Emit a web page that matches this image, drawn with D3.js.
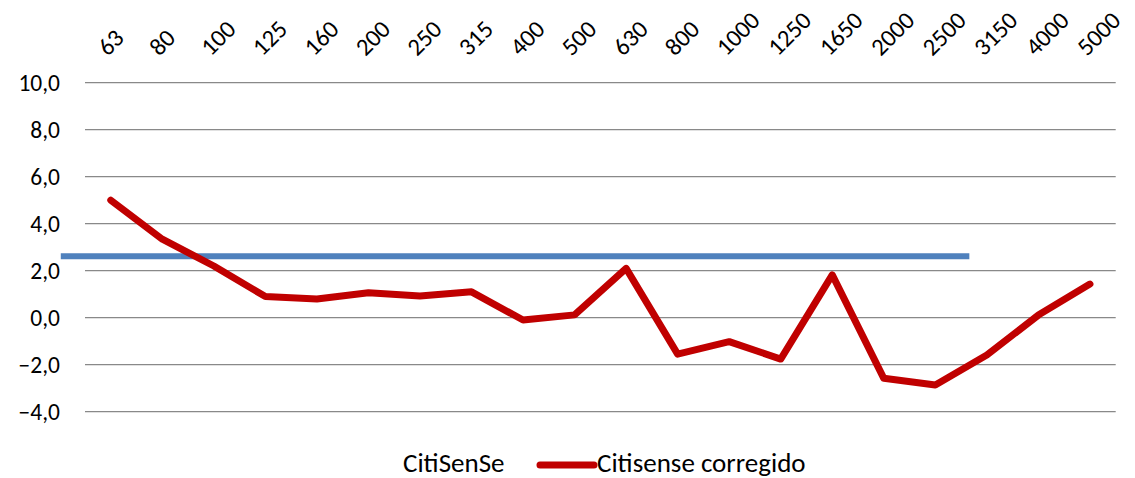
<!DOCTYPE html>
<html>
<head>
<meta charset="utf-8">
<script src="https://cdn.jsdelivr.net/npm/d3@7"></script>
<style>
  html, body { margin: 0; padding: 0; background: #fff; }
  svg { display: block; font-family: Calibri, Carlito, Lato, sans-serif; }
</style>
</head>
<body>
<svg id="chart" width="1135" height="478"></svg>
<script>
/* ── Data ─────────────────────────────────────────── */
const categories = ["63","80","100","125","160","200","250","315","400","500",
                    "630","800","1000","1250","1650","2000","2500","3150","4000","5000"];
const corregido  = [5.0, 3.34, 2.2, 0.9, 0.8, 1.06, 0.92, 1.1, -0.1, 0.12,
                    2.1, -1.55, -1.02, -1.76, 1.82, -2.58, -2.86, -1.59, 0.11, 1.43];
const citiSenSe      = 2.62;           // flat level
const citiSenSeSpan  = [-0.97, 16.66]; // in category units
const yTicks = [-4, -2, 0, 2, 4, 6, 8, 10];
const seriesNames = ["CitiSenSe", "Citisense corregido"];

/* ── Layout ───────────────────────────────────────── */
const svg = d3.select("#chart");
const plot = { left: 85, right: 1115.7, top: 82.7, bottom: 411.7 };

const x = d3.scaleBand().domain(categories).range([plot.left, plot.right]);
const xc = d => x(d) + x.bandwidth() / 2;
const xIdx = i => plot.left + x.bandwidth() * (i + 0.5);
const y = d3.scaleLinear().domain([-4, 10]).range([plot.bottom, plot.top]);
const fmt = v => d3.format(".1f")(v).replace(".", ",");

/* gridlines */
svg.append("g").selectAll("line")
    .data(yTicks).join("line")
    .attr("x1", plot.left).attr("x2", plot.right)
    .attr("y1", d => y(d)).attr("y2", d => y(d))
    .attr("stroke", "#898989").attr("stroke-width", 1.3);

/* y labels */
svg.append("g").selectAll("text")
    .data(yTicks).join("text")
    .attr("x", 60).attr("y", d => y(d) + 8.5)
    .attr("text-anchor", "end")
    .attr("font-size", 23.5).attr("fill", "#000")
    .text(fmt);

/* x labels on top, rotated */
svg.append("g").selectAll("text")
    .data(categories).join("text")
    .attr("transform", d => `translate(${xc(d) - 3},${57}) rotate(-45)`)
    .attr("text-anchor", "start")
    .attr("font-size", 24.5).attr("fill", "#000")
    .text(d => d);

/* CitiSenSe flat line */
svg.append("line")
    .attr("x1", xIdx(citiSenSeSpan[0])).attr("x2", xIdx(citiSenSeSpan[1]))
    .attr("y1", y(citiSenSe)).attr("y2", y(citiSenSe))
    .attr("stroke", "#4F81BD").attr("stroke-width", 6);

/* Citisense corregido */
const line = d3.line().x((d, i) => xc(categories[i])).y(d => y(d));
svg.append("path")
    .datum(corregido)
    .attr("d", line)
    .attr("fill", "none")
    .attr("stroke", "#C00000").attr("stroke-width", 7)
    .attr("stroke-linejoin", "round").attr("stroke-linecap", "round");

/* legend */
const lg = svg.append("g").attr("font-size", 27);
lg.append("text").attr("x", 403).attr("y", 472).text(seriesNames[0]);
lg.append("line")
    .attr("x1", 540).attr("x2", 594).attr("y1", 465).attr("y2", 465)
    .attr("stroke", "#C00000").attr("stroke-width", 7).attr("stroke-linecap", "round");
lg.append("text").attr("x", 597).attr("y", 472).text(seriesNames[1]);
</script>
</body>
</html>
